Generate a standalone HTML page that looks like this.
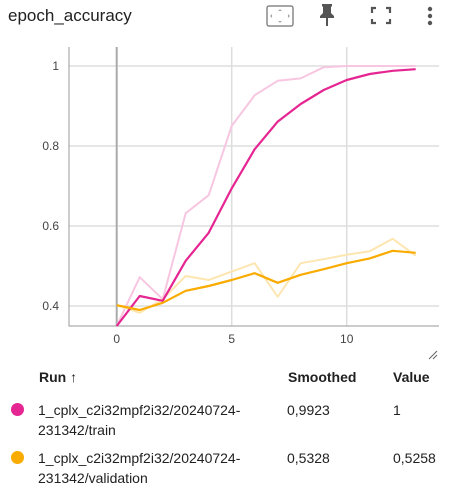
<!DOCTYPE html>
<html><head><meta charset="utf-8"><style>
body{margin:0;width:457px;height:488px;background:#fff;font-family:"Liberation Sans",sans-serif;color:#212121;position:relative;overflow:hidden}
.a{position:absolute;white-space:nowrap}
</style></head><body>
<div class="a" style="left:8px;top:6px;font-size:17px">epoch_accuracy</div>
<svg class="a" style="left:0;top:0" width="457" height="40">
<g><rect x="267" y="6" width="26" height="20" rx="2" fill="none" stroke="#888" stroke-width="1.5"/><path d="M280 9l-2 2h4zM280 23l-2-2h4zM270 16l2-2v4zM290 16l-2-2v4z" fill="#aaa"/></g>
<g><path d="M322 4h10v2l-1 1v6l3 3v2h-6v8h-2v-8h-6v-2l3-3v-6l-1-1z" fill="#555"/></g>
<g stroke="#555" stroke-width="2.2" fill="none"><path d="M372 13v-5h4M386 8h4v5M372 19v4h4M386 23h4v-4"/></g>
<g fill="#555"><circle cx="430" cy="9" r="2.2"/><circle cx="430" cy="16" r="2.2"/><circle cx="430" cy="23" r="2.2"/></g>
</svg>
<svg id="chart" class="a" style="left:0;top:0" width="457" height="360"></svg>
<div class="a" style="left:39px;top:369px;font-size:14px;font-weight:bold">Run ↑</div>
<div class="a" style="left:288px;top:369px;font-size:14px;font-weight:bold">Smoothed</div>
<div class="a" style="left:393px;top:369px;font-size:14px;font-weight:bold">Value</div>
<div class="a" style="left:11px;top:403px;width:13px;height:13px;border-radius:50%;background:#e52592"></div>
<div class="a" style="left:38px;top:400px;font-size:14px;line-height:20px">1_cplx_c2i32mpf2i32/20240724-<br>231342/train</div>
<div class="a" style="left:287px;top:400px;font-size:14px;line-height:20px">0,9923</div>
<div class="a" style="left:393px;top:400px;font-size:14px;line-height:20px">1</div>
<div class="a" style="left:11px;top:451px;width:13px;height:13px;border-radius:50%;background:#f9ab00"></div>
<div class="a" style="left:38px;top:448px;font-size:14px;line-height:20px">1_cplx_c2i32mpf2i32/20240724-<br>231342/validation</div>
<div class="a" style="left:287px;top:448px;font-size:14px;line-height:20px">0,5328</div>
<div class="a" style="left:393px;top:448px;font-size:14px;line-height:20px">0,5258</div>
<script>
const steps=[0,1,2,3,4,5,6,7,8,9,10,11,12,13];
const trainRaw=[0.35,0.472,0.417,0.632,0.677,0.85,0.927,0.963,0.969,0.997,1,1,1,1];
const trainSmooth=[0.35,0.425,0.413,0.513,0.583,0.694,0.792,0.861,0.905,0.94,0.965,0.98,0.988,0.992];
const valRaw=[0.402,0.383,0.417,0.475,0.465,0.486,0.507,0.423,0.507,0.517,0.528,0.537,0.568,0.5258];
const valSmooth=[0.402,0.39,0.408,0.438,0.45,0.465,0.482,0.458,0.478,0.492,0.507,0.519,0.538,0.533];
const xTicks=[0,5,10];
const yTicks=[0.4,0.6,0.8,1];
const yTickLabels=["0.4","0.6","0.8","1"];
const svg=document.getElementById('chart');const NS='http://www.w3.org/2000/svg';
const X=v=>116.7+v*23, Y=v=>66+(1-v)*400;
const L=69,R=439,T=47,B=326;
function mk(t,a){const e=document.createElementNS(NS,t);for(const k in a)e.setAttribute(k,a[k]);svg.appendChild(e);return e;}
yTicks.forEach((v,i)=>{
const g=mk('line',{x1:L,x2:R,y1:Y(v),y2:Y(v),stroke:'#ddd','stroke-width':1.5});


const t=mk('text',{x:59,y:Y(v)+4,'text-anchor':'end','font-size':12,fill:'#444','font-family':'Liberation Sans'});t.textContent=yTickLabels[i];


});
xTicks.forEach(v=>{
const g=mk('line',{x1:X(v),x2:X(v),y1:T,y2:B,stroke:v===0?'#aaa':'#ddd','stroke-width':v===0?2:1.5});


const t=mk('text',{x:X(v),y:343,'text-anchor':'middle','font-size':12,fill:'#444','font-family':'Liberation Sans'});t.textContent=v;


});
const ax=mk('path',{d:`M${L} ${T}V${B}H${R}`,fill:'none',stroke:'#999','stroke-width':1});


function line(arr,c,w,n){const p=mk('polyline',{points:arr.map((v,i)=>X(steps[i])+','+Y(v)).join(' '),fill:'none',stroke:c,'stroke-width':w,'stroke-linejoin':'round'});

}
line(trainRaw,'#f7c6e1',2,'train-raw-line');
line(valRaw,'#fde6b0',2,'validation-raw-line');
line(trainSmooth,'#e52592',2.2,'train-smoothed-line');
line(valSmooth,'#f9ab00',2.2,'validation-smoothed-line');
const rz=mk('path',{d:'M429 359l8-8M433 359l4-4',stroke:'#666','stroke-width':1});


</script>
</body></html>
